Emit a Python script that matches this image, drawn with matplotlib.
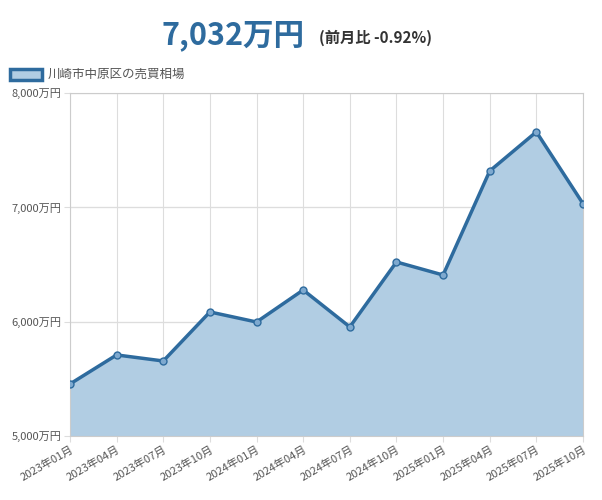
import matplotlib
matplotlib.use("Agg")
import matplotlib.pyplot as plt
from matplotlib.patches import Rectangle

plt.rcParams['font.family'] = ['Noto Sans CJK JP', 'DejaVu Sans']

labels = ["2023年01月","2023年04月","2023年07月","2023年10月","2024年01月","2024年04月",
          "2024年07月","2024年10月","2025年01月","2025年04月","2025年07月","2025年10月"]
values = [5455, 5709, 5656, 6085, 5997, 6277, 5954, 6522, 6408, 7318, 7660, 7032]
yticks = [5000, 6000, 7000, 8000]

line_c = "#2e6b9e"
fill_c = "#b1cde3"

fig = plt.figure(figsize=(6.02, 5.0), dpi=100)
ax = fig.add_axes([70/602, 64/500, 513/602, 343/500])
x = list(range(len(values)))
ax.fill_between(x, values, 5000, color=fill_c, zorder=2)
ax.plot(x, values, color=line_c, lw=2.5, marker='o', ms=5, mfc="#7ea9cf", mec=line_c, mew=1, zorder=3)
ax.set_xlim(0, len(values)-1)
ax.set_ylim(5000, 8000)
ax.set_yticks(yticks)
ax.set_yticklabels([f"{v:,}万円" for v in yticks], fontsize=8, color="#555555")
ax.set_xticks(x)
ax.set_xticklabels(labels, rotation=30, ha='right', fontsize=8, color="#555555", rotation_mode='anchor')
ax.grid(True, color="#dddddd", lw=0.8, zorder=1)
for y in yticks:
    ax.axhline(y, color="#bbbbbb", lw=0.8, zorder=1)
for s in ax.spines.values():
    s.set_color("#cccccc")
ax.tick_params(length=4, color="#dddddd", pad=2)

fig.text(0.505, 0.93, "7,032万円", fontsize=22, fontweight='bold', color=line_c, ha='right', va='center')
fig.text(0.53, 0.925, "(前月比 -0.92%)", fontsize=11, fontweight='bold', color="#333333", ha='left', va='center')

fig.patches.append(Rectangle((10/602, 1-80/500), 32/602, 11/500, transform=fig.transFigure,
                             facecolor=fill_c, edgecolor=line_c, lw=2.5))
fig.text(48/602, 1-74.5/500, "川崎市中原区の売買相場", fontsize=9, color="#555555", va='center', ha='left')

fig.savefig("out.png", dpi=100)
